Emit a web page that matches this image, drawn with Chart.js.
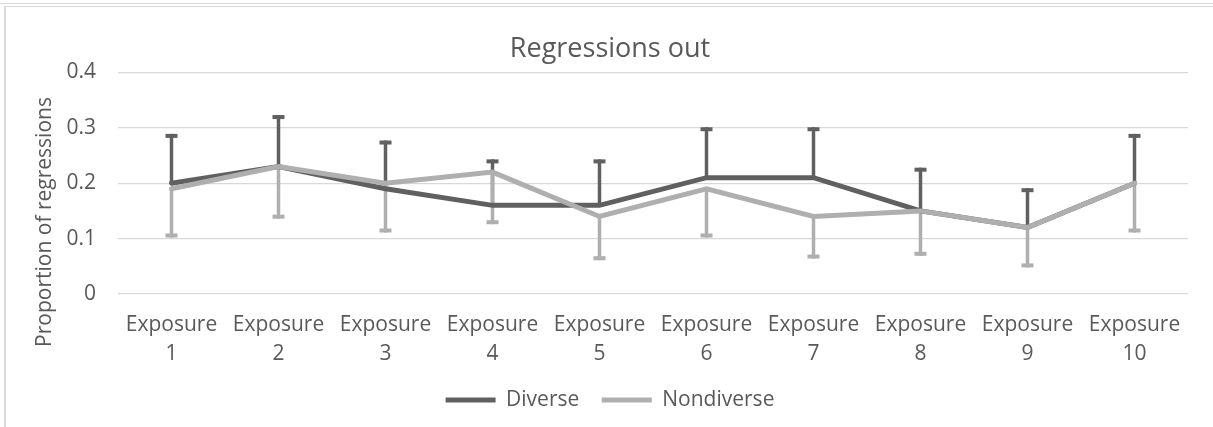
<!DOCTYPE html>
<html>
<head>
<meta charset="utf-8">
<script src="https://cdn.jsdelivr.net/npm/chart.js@4.4.1/dist/chart.umd.min.js"></script>
<style>
  body { margin: 0; background: #fff; }
  #wrap { position: relative; width: 1213px; height: 427px; }
  #wrap canvas { position: absolute; left: 0; top: 0; }
  .frame { position: absolute; background: #d9d9d9; }
</style>
</head>
<body>
<div id="wrap">
  <canvas id="regChart" width="1213" height="427"></canvas>
  <div class="frame" style="left:0;top:3px;width:1213px;height:1px;"></div>
  <div class="frame" style="left:4px;top:6px;width:1209px;height:1px;"></div>
  <div class="frame" style="left:4px;top:6px;width:2px;height:421px;"></div>
</div>
<script>
var exposures = [
  ['Exposure', '1'], ['Exposure', '2'], ['Exposure', '3'], ['Exposure', '4'], ['Exposure', '5'],
  ['Exposure', '6'], ['Exposure', '7'], ['Exposure', '8'], ['Exposure', '9'], ['Exposure', '10']
];
var diverse = [0.20, 0.23, 0.19, 0.16, 0.16, 0.21, 0.21, 0.15, 0.12, 0.20];
var nondiverse = [0.19, 0.23, 0.20, 0.22, 0.14, 0.19, 0.14, 0.15, 0.12, 0.20];
// ends of the error bars (diverse goes up, nondiverse goes down)
var diverseUpper = [0.289, 0.323, 0.277, 0.243, 0.243, 0.301, 0.301, 0.228, 0.191, 0.289];
var nondiverseLower = [0.102, 0.136, 0.111, 0.126, 0.061, 0.102, 0.064, 0.069, 0.048, 0.111];
var yTicks = [0, 0.1, 0.2, 0.3, 0.4];

var darkGray = '#606060';
var lightGray = '#afafaf';
var textColor = '#595959';
var font = "'Open Sans', sans-serif";

var errorBars = {
  id: 'errorBars',
  beforeDatasetsDraw: function(chart) {
    var ctx = chart.ctx;
    var yScale = chart.scales.y;
    chart.data.datasets.forEach(function(ds, i) {
      var meta = chart.getDatasetMeta(i);
      ctx.save();
      ctx.strokeStyle = ds.borderColor;
      ctx.fillStyle = ds.borderColor;
      ctx.lineWidth = 3.5;
      meta.data.forEach(function(pt, j) {
        var yEnd = yScale.getPixelForValue(ds.errorEnd[j]);
        ctx.beginPath();
        ctx.moveTo(pt.x, pt.y);
        ctx.lineTo(pt.x, yEnd);
        ctx.stroke();
        // cap sits on the inner side of the end value
        var capTop = yEnd < pt.y ? yEnd : yEnd - 4;
        ctx.fillRect(pt.x - 6, capTop, 12, 4);
      });
      ctx.restore();
    });
  }
};

var yTitle = {
  id: 'yTitle',
  afterDraw: function(chart) {
    var ctx = chart.ctx;
    ctx.save();
    ctx.translate(45, 222);
    ctx.rotate(-Math.PI / 2);
    ctx.font = "21px " + font;
    ctx.fillStyle = textColor;
    ctx.textAlign = 'center';
    ctx.textBaseline = 'middle';
    ctx.fillText('Proportion of regressions', 0, 0);
    ctx.restore();
  }
};

var ctx = document.getElementById('regChart').getContext('2d');
var regChart = new Chart(ctx, {
  type: 'line',
  data: {
    labels: exposures,
    datasets: [
      {
        label: 'Diverse',
        data: diverse,
        errorEnd: diverseUpper,
        borderColor: darkGray,
        backgroundColor: darkGray,
        borderWidth: 5,
        borderCapStyle: 'round',
        pointRadius: 0,
        tension: 0,
        order: 2
      },
      {
        label: 'Nondiverse',
        data: nondiverse,
        errorEnd: nondiverseLower,
        borderColor: lightGray,
        backgroundColor: lightGray,
        borderWidth: 5,
        borderCapStyle: 'round',
        pointRadius: 0,
        tension: 0,
        order: 1
      }
    ]
  },
  options: {
    responsive: false,
    animation: false,
    layout: { padding: { top: 33, left: 32, right: 25, bottom: 6.5 } },
    plugins: {
      tooltip: { enabled: false },
      title: {
        display: true,
        text: 'Regressions out',
        color: textColor,
        font: { family: font, size: 27, weight: 'normal', lineHeight: 1.2 },
        padding: { top: 0, bottom: 7 }
      },
      legend: {
        position: 'bottom',
        labels: {
          usePointStyle: true,
          pointStyle: 'line',
          pointStyleWidth: 50,
          padding: 22.5,
          color: textColor,
          font: { family: font, size: 21 },
          sort: function(a, b) { return a.datasetIndex - b.datasetIndex; }
        }
      }
    },
    scales: {
      x: {
        offset: true,
        grid: { display: false, drawTicks: false },
        border: { display: false },
        ticks: {
          color: textColor,
          padding: 17,
          maxRotation: 0,
          autoSkip: false,
          font: { family: font, size: 21, lineHeight: 1.38 }
        },
        afterFit: function(scale) { scale.height = 73; }
      },
      y: {
        min: 0,
        max: 0.4,
        afterBuildTicks: function(scale) {
          scale.ticks = yTicks.map(function(v) { return { value: v }; });
        },
        grid: { color: '#d9d9d9', lineWidth: 1.3, drawTicks: false },
        border: { display: false },
        ticks: {
          color: textColor,
          padding: 22,
          font: { family: font, size: 21 }
        },
        afterFit: function(scale) { scale.width = 86; }
      }
    }
  },
  plugins: [errorBars, yTitle]
});
</script>
</body>
</html>
